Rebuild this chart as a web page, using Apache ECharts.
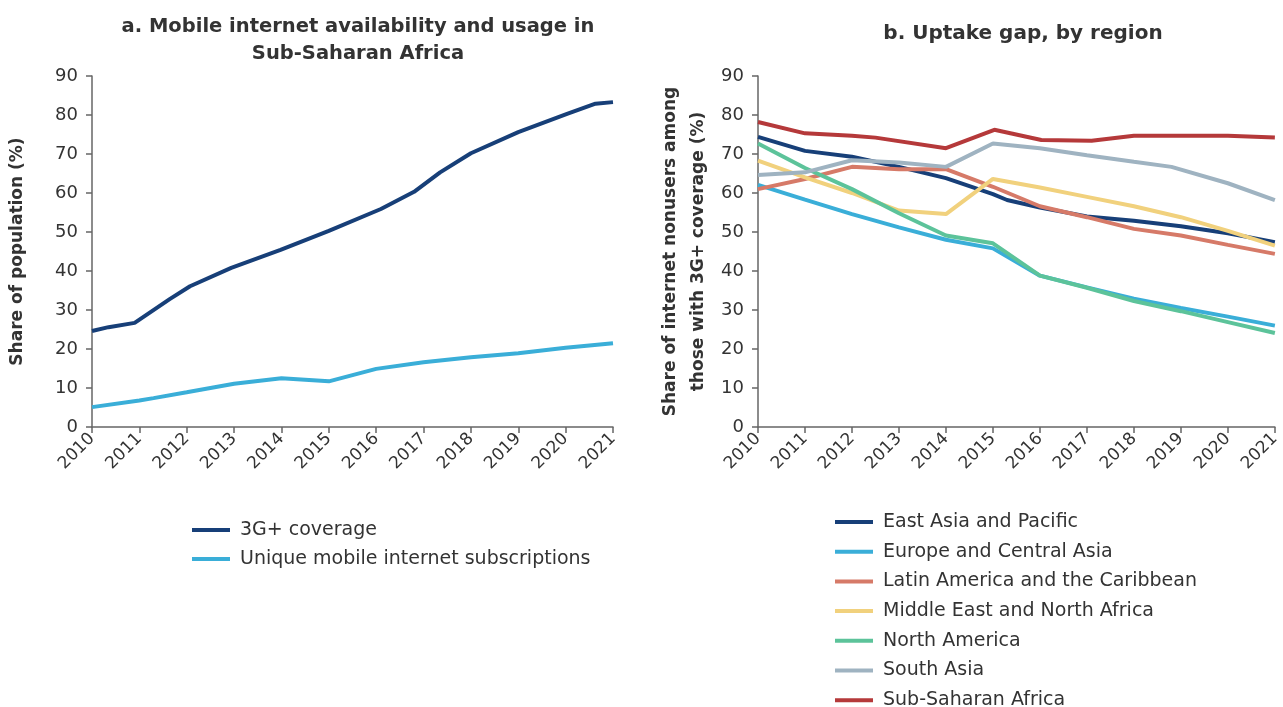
<!DOCTYPE html>
<html><head><meta charset="utf-8">
<script src="https://cdn.jsdelivr.net/npm/echarts@6/dist/echarts.min.js"></script>
<style>html,body{margin:0;padding:0;background:#fff}#c{width:1283px;height:707px}</style>
</head><body><div id="c"></div>
<script>
// Panel a: [year, value]
const coverage3G = [[2010,24.6],[2010.35,25.6],[2010.9,26.7],[2011.64,32.8],[2012.07,36.1],[2012.94,40.8],[2013.98,45.4],[2015.0,50.3],[2016.1,55.9],[2016.8,60.3],[2017.35,65.3],[2018.0,70.2],[2019.0,75.6],[2020.03,80.3],[2020.63,82.9],[2021,83.3]];
const uniqueSubs = [[2010,5.1],[2011,6.8],[2011.3,7.4],[2012,8.9],[2013,11.1],[2014,12.5],[2015,11.7],[2016,14.9],[2017,16.6],[2018,17.9],[2019,18.9],[2020,20.3],[2021,21.5]];
// Panel b
const eastAsia = [[2010,74.4],[2011,70.8],[2012,69.3],[2013,66.7],[2014,63.8],[2015,59.7],[2015.3,58.2],[2016,56.3],[2017,54.0],[2018,52.9],[2019,51.5],[2020,49.7],[2021,47.4]];
const europe = [[2010,62.1],[2011,58.3],[2012,54.6],[2013,51.2],[2014,48.0],[2015,45.8],[2016,38.8],[2017,35.8],[2018,32.9],[2019,30.5],[2020,28.3],[2021,26.0]];
const latinAm = [[2010,61.0],[2011,63.6],[2012,66.7],[2013,66.1],[2014,66.1],[2015,61.6],[2016,56.6],[2017,53.8],[2018,50.8],[2019,49.1],[2020,46.7],[2021,44.4]];
const mena = [[2010,68.3],[2011,64.0],[2012,60.0],[2013,55.5],[2014,54.6],[2015,63.6],[2016,61.4],[2017,59.0],[2018,56.6],[2019,53.8],[2020,50.3],[2021,46.5]];
const northAm = [[2010,72.7],[2011,66.4],[2012,61.0],[2013,54.8],[2014,49.1],[2015,47.1],[2016,38.8],[2017,35.7],[2018,32.3],[2019,29.7],[2020,26.9],[2021,24.1]];
const southAsia = [[2010,64.6],[2011,65.3],[2012,68.4],[2013,67.8],[2014,66.7],[2015,72.7],[2016,71.5],[2017,69.7],[2018,68.0],[2018.8,66.7],[2020,62.5],[2021,58.2]];
const ssa = [[2010,78.2],[2011,75.3],[2012,74.7],[2012.5,74.2],[2014,71.5],[2015.03,76.2],[2016.03,73.6],[2017.1,73.4],[2018,74.7],[2019,74.7],[2020,74.7],[2021,74.2]];

const namesA = ['3G+ coverage','Unique mobile internet subscriptions'];
const namesB = ['East Asia and Pacific','Europe and Central Asia','Latin America and the Caribbean','Middle East and North Africa','North America','South Asia','Sub-Saharan Africa'];
const titleA = 'a. Mobile internet availability and usage in\nSub-Saharan Africa';
const titleB = 'b. Uptake gap, by region';
const yNameA = 'Share of population (%)';
const yNameB = 'Share of internet nonusers among\nthose with 3G+ coverage (%)';

const colA = ['#173f78','#3aaed8'];
const colB = ['#173f78','#3aaed8','#d67a68','#f1d17d','#5cc39a','#9fb3c1','#b5393a'];
const font = 'DejaVu Sans';
const txt = '#333';

function xAxis(gi){return {type:'value',gridIndex:gi,min:2010,max:2021,interval:1,
  axisLine:{lineStyle:{color:'#666',width:1.5}},axisTick:{show:true,length:6,lineStyle:{color:'#666',width:1.5}},
  splitLine:{show:false},
  axisLabel:{rotate:45,color:txt,fontSize:17,fontFamily:font,margin:9,formatter:v=>String(v)}};}
function yAxis(gi,name,gap){return {type:'value',gridIndex:gi,min:0,max:90,interval:10,
  name:name,nameLocation:'middle',nameGap:gap,nameRotate:90,
  nameTextStyle:{color:txt,fontSize:17,fontWeight:'bold',fontFamily:font,lineHeight:28},
  axisLine:{show:true,lineStyle:{color:'#666',width:1.5}},axisTick:{show:true,length:6,lineStyle:{color:'#666',width:1.5}},
  splitLine:{show:false},
  axisLabel:{color:txt,fontSize:18,fontFamily:font,margin:14}};}
function line(name,data,color,xi){return {name:name,type:'line',xAxisIndex:xi,yAxisIndex:xi,data:data,
  showSymbol:false,symbol:'none',lineStyle:{color:color,width:4},itemStyle:{color:color},z:2};}

const legendText = {color:txt,fontSize:19,fontFamily:font,padding:[0,0,0,5],lineHeight:20};

const chart = echarts.init(document.getElementById('c'));
chart.setOption({
  backgroundColor:'#fff',
  animation:false,
  title:[
    {text:titleA,left:353,top:8,textAlign:'center',textStyle:{color:txt,fontSize:19.5,fontWeight:'bold',fontFamily:font,lineHeight:27}},
    {text:titleB,left:1018,top:19,textAlign:'center',textStyle:{color:txt,fontSize:20,fontWeight:'bold',fontFamily:font}}
  ],
  grid:[
    {left:92,right:670,top:76,bottom:280},
    {left:758,right:4,top:76,bottom:280}
  ],
  xAxis:[xAxis(0),xAxis(1)],
  yAxis:[yAxis(0,yNameA,60),yAxis(1,yNameB,45)],
  legend:[
    {data:namesA,orient:'vertical',left:187,top:515,height:100,itemWidth:38,itemHeight:4,itemGap:9,icon:'rect',textStyle:legendText},
    {data:namesB,orient:'vertical',left:830,top:507,height:220,itemWidth:38,itemHeight:4,itemGap:9.7,icon:'rect',textStyle:legendText}
  ],
  series:[
    line(namesA[0],coverage3G,colA[0],0),
    line(namesA[1],uniqueSubs,colA[1],0),
    line(namesB[0],eastAsia,colB[0],1),
    line(namesB[1],europe,colB[1],1),
    line(namesB[2],latinAm,colB[2],1),
    line(namesB[3],mena,colB[3],1),
    line(namesB[4],northAm,colB[4],1),
    line(namesB[5],southAsia,colB[5],1),
    line(namesB[6],ssa,colB[6],1)
  ]
});
</script></body></html>
